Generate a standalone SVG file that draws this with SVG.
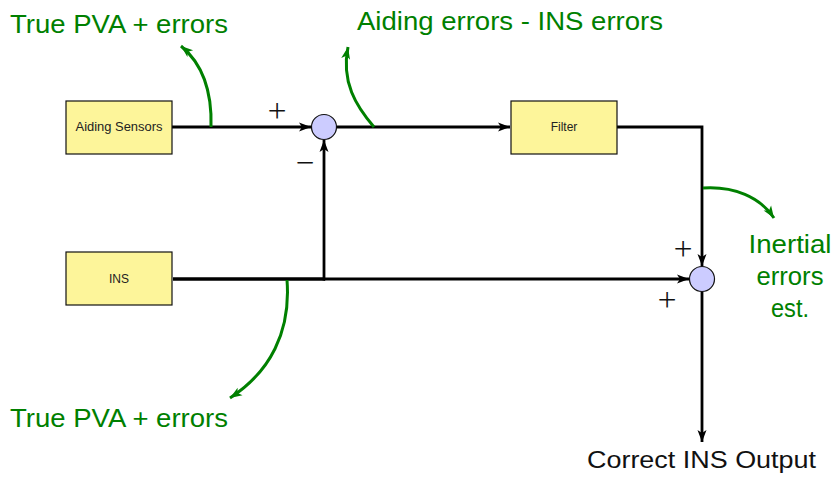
<svg xmlns="http://www.w3.org/2000/svg" width="836" height="479" viewBox="0 0 836 479">
<style>
.box{fill:#fdf59a;stroke:#111;stroke-width:1.2}
.sum{fill:#ccccff;stroke:#111;stroke-width:1.2}
.lbl{font-family:"Liberation Sans",Arial,sans-serif;font-size:12px;fill:#222;text-anchor:middle}
.ln{fill:none;stroke:#000;stroke-width:2.8}
.gr{fill:none;stroke:#008000;stroke-width:3}
.gt{font-family:"Liberation Sans",Arial,sans-serif;font-size:25px;fill:#008000}
.sg{font-family:Inter,"Liberation Sans",Arial,sans-serif;font-weight:200;font-size:36px;fill:#111;text-anchor:middle}
.bt{font-family:"Liberation Sans",Arial,sans-serif;font-size:23px;fill:#111}
</style>
<defs>
<marker id="ab" markerUnits="userSpaceOnUse" markerWidth="14" markerHeight="12" viewBox="0 0 14 12" refX="13" refY="6" orient="auto">
<path d="M1,1.5 L13,6 L1,10.5 L4,6 z" fill="#000"/>
</marker>
<marker id="ag" markerUnits="userSpaceOnUse" markerWidth="14" markerHeight="12" viewBox="0 0 14 12" refX="13" refY="6" orient="auto">
<path d="M1,1.5 L13,6 L1,10.5 L4,6 z" fill="#008000"/>
</marker>
</defs>

<g id="connectors">
<line class="ln" x1="172" y1="127" x2="311" y2="127" marker-end="url(#ab)"/>
<line class="ln" x1="337" y1="127" x2="510" y2="127" marker-end="url(#ab)"/>
<polyline class="ln" points="617,127 702,127 702,266" marker-end="url(#ab)"/>
<line class="ln" x1="173" y1="279" x2="325" y2="279" style="stroke-width:3.6"/>
<line class="ln" x1="324" y1="279" x2="689" y2="279" marker-end="url(#ab)"/>
<line class="ln" x1="324" y1="280.5" x2="324" y2="140" marker-end="url(#ab)"/>
<line class="ln" x1="702" y1="292" x2="702" y2="442" marker-end="url(#ab)"/>
<path class="gr" d="M211,127 C212,95 204,65 181,46" marker-end="url(#ag)"/>
<path class="gr" d="M374,127 C356,106 341,82 348,47" marker-end="url(#ag)"/>
<path class="gr" d="M703,188 C734,186 760,197 774,218" marker-end="url(#ag)"/>
<path class="gr" d="M287,280 C291,332 270,372 230,398" marker-end="url(#ag)"/>
</g>

<g id="aiding-sensors">
<rect class="box" x="66" y="101" width="106" height="53"/>
<text class="lbl" x="119" y="131" textLength="87" lengthAdjust="spacingAndGlyphs">Aiding Sensors</text>
</g>
<g id="ins">
<rect class="box" x="66" y="252" width="106" height="53"/>
<text class="lbl" x="119" y="283">INS</text>
</g>
<g id="filter">
<rect class="box" x="511" y="101" width="106" height="53"/>
<text class="lbl" x="564" y="131">Filter</text>
</g>
<g id="sum1">
<circle class="sum" cx="324" cy="127" r="12.5"/>
<text class="sg" x="277" y="121">+</text>
<text class="sg" x="305" y="173">−</text>
</g>
<g id="sum2">
<circle class="sum" cx="702" cy="279" r="12.5"/>
<text class="sg" x="683" y="259">+</text>
<text class="sg" x="667" y="310">+</text>
</g>

<g id="labels">
<text class="gt" x="10" y="33" textLength="218" lengthAdjust="spacingAndGlyphs">True PVA + errors</text>
<text class="gt" x="357" y="30" textLength="306" lengthAdjust="spacingAndGlyphs">Aiding errors - INS errors</text>
<text class="gt" x="10" y="427" textLength="218" lengthAdjust="spacingAndGlyphs">True PVA + errors</text>
<text class="gt" x="790" y="253" text-anchor="middle" textLength="83" lengthAdjust="spacingAndGlyphs">Inertial</text>
<text class="gt" x="790" y="285" text-anchor="middle" textLength="67" lengthAdjust="spacingAndGlyphs">errors</text>
<text class="gt" x="790" y="317" text-anchor="middle" textLength="38" lengthAdjust="spacingAndGlyphs">est.</text>
<text class="bt" x="587" y="468" textLength="229" lengthAdjust="spacingAndGlyphs">Correct INS Output</text>
</g>
</svg>
